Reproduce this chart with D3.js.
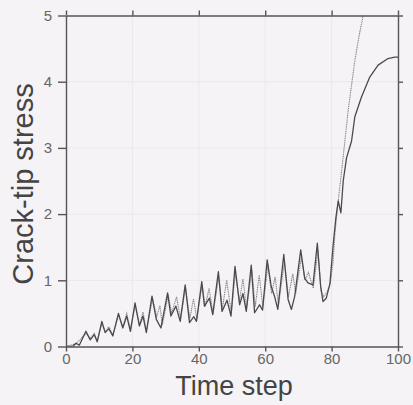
<!DOCTYPE html>
<html>
<head>
<meta charset="utf-8">
<script src="https://cdn.jsdelivr.net/npm/d3@7"></script>
<style>
  body { margin: 0; background: #f5f3f6; }
  svg { display: block; }
  .tick text { font-family: "Liberation Sans", Arial, sans-serif; fill: #666; }
</style>
</head>
<body>
<script>
//-----------------Data----------------

// solid series
const solidTime = [0, 2, 3, 4, 6, 7.3, 8.5, 9.4, 10.8, 11.8, 12.9, 14.1, 15.8, 17.1, 18.3, 19.4, 20.8, 22.1, 23.2, 24.2,
  25.9, 27.2, 28.6, 30.6, 31.6, 33.1, 34.4, 35.9, 37.2, 38.5, 39.3, 40.9, 41.7, 43.2, 44.2, 45.9, 47, 48.5, 49.7,
  50.9, 52.3, 53.3, 54.3, 55.8, 56.8, 58.3, 59.2, 60.6, 61.8, 62.8, 63.8, 65.6, 66.9, 67.9, 68.9, 70.7, 71.9, 72.9,
  74.4, 75.7, 76.7, 77.4, 78.4, 79.5, 80.4, 81.3, 82, 82.8, 83.5, 84.5, 86, 87, 89, 91.5, 94, 97, 99, 100];
const solidStress = [0, 0, 0.05, 0.02, 0.23, 0.1, 0.18, 0.07, 0.38, 0.21, 0.27, 0.16, 0.5, 0.28, 0.46, 0.23, 0.66, 0.31, 0.46, 0.21,
  0.76, 0.41, 0.28, 0.81, 0.46, 0.61, 0.38, 0.93, 0.36, 0.45, 0.38, 0.98, 0.61, 0.73, 0.48, 1.13, 0.53, 0.7, 0.46,
  1.21, 0.63, 0.8, 0.53, 1.23, 0.51, 0.63, 0.55, 1.31, 0.91, 0.76, 0.56, 1.39, 0.71, 0.56, 0.76, 1.46, 1.03, 0.96,
  0.93, 1.56, 0.91, 0.68, 0.73, 0.95, 1.5, 1.95, 2.2, 2.02, 2.5, 2.85, 3.1, 3.47, 3.77, 4.07, 4.25, 4.35, 4.37, 4.37];

// dotted series
const dottedTime = [0, 3, 6, 7.3, 8.5, 9.4, 10.8, 11.8, 12.9, 14.1, 15.8, 17.1, 18.3, 19.4, 20.8, 22.1, 23.2, 24.2,
  26.1, 27.3, 28.3, 29, 30.8, 31.8, 33.3, 34.5, 36, 37.3, 38.4, 39.4, 41, 41.9, 43.1, 44.3, 46, 47.1, 48.4, 49.8,
  51, 52.2, 53.3, 54.4, 56, 57, 58.2, 59.3, 60.8, 61.9, 63, 64, 65.8, 67, 68.3, 69.2, 70.9, 72, 73, 74.5,
  75.9, 76.8, 77.6, 78.6, 79.6, 80.5, 81, 82, 83.5, 85, 87, 88.3, 89.5];
const dottedStress = [0, 0.04, 0.2, 0.12, 0.2, 0.08, 0.35, 0.22, 0.3, 0.17, 0.47, 0.3, 0.5, 0.25, 0.62, 0.33, 0.52, 0.24,
  0.72, 0.45, 0.62, 0.32, 0.78, 0.5, 0.75, 0.42, 0.88, 0.42, 0.72, 0.42, 0.93, 0.6, 0.88, 0.5, 1.05, 0.57, 1.0, 0.5,
  1.12, 0.68, 1.02, 0.58, 1.15, 0.6, 1.08, 0.6, 1.22, 0.8, 1.05, 0.62, 1.28, 0.75, 1.1, 0.8, 1.35, 1.0, 1.12, 0.88,
  1.45, 0.85, 0.75, 0.82, 0.95, 1.3, 1.71, 2.2, 2.87, 3.57, 4.32, 4.7, 5.0];

const xTicks = [0, 20, 40, 60, 80, 100];
const yTicks = [0, 1, 2, 3, 4, 5];

//-----------------Svg------------------

const width = 413;
const height = 405;
const plotLeft = 66, plotRight = 398, plotTop = 15.5, plotBottom = 346.5;
const axisColor = "#555";

const svg = d3.select("body").append("svg").attr("width", width).attr("height", height);

const xScale = d3.scaleLinear().domain([0, 100]).range([plotLeft, plotRight]);
const yScale = d3.scaleLinear().domain([0, 5]).range([plotBottom, plotTop]);

// faint grid
svg.append("g")
  .selectAll("line")
  .data(xTicks.slice(1, -1))
  .enter()
  .append("line")
  .attr("x1", (d) => xScale(d)).attr("x2", (d) => xScale(d))
  .attr("y1", plotTop).attr("y2", plotBottom)
  .style("stroke", "#ebe8ee").style("stroke-width", 1);
svg.append("g")
  .selectAll("line")
  .data(yTicks.slice(1, -1))
  .enter()
  .append("line")
  .attr("x1", plotLeft).attr("x2", plotRight)
  .attr("y1", (d) => yScale(d)).attr("y2", (d) => yScale(d))
  .style("stroke", "#ebe8ee").style("stroke-width", 1);

//-------------Lines----------------

svg.append("defs").append("clipPath").attr("id", "plot-clip")
  .append("rect").attr("x", plotLeft).attr("y", plotTop).attr("width", plotRight - plotLeft).attr("height", plotBottom - plotTop);

const line = d3.line().x((d) => xScale(d[0])).y((d) => yScale(d[1]));

svg.append("path")
  .datum(dottedTime.map((t, i) => [t, dottedStress[i]]))
  .attr("d", line)
  .attr("clip-path", "url(#plot-clip)")
  .style("fill", "none")
  .style("stroke", "#858388")
  .style("stroke-width", 1.1)
  .style("stroke-dasharray", "1.1,0.7");

svg.append("path")
  .datum(solidTime.map((t, i) => [t, solidStress[i]]))
  .attr("d", line)
  .attr("clip-path", "url(#plot-clip)")
  .style("fill", "none")
  .style("stroke", "#4a494c")
  .style("stroke-width", 1.3)
  .style("stroke-linejoin", "round");

//------------Axis----------------

const fmt = d3.format("d");

svg.append("g")
  .attr("transform", "translate(0," + plotBottom + ")")
  .call(d3.axisBottom(xScale).tickValues(xTicks).tickFormat(fmt).tickSize(5).tickSizeOuter(0).tickPadding(2))
  .call((g) => g.selectAll("text").style("font-size", "15px"));

svg.append("g")
  .attr("transform", "translate(" + plotLeft + ",0)")
  .call(d3.axisLeft(yScale).tickValues(yTicks).tickFormat(fmt).tickSize(8).tickSizeOuter(0).tickPadding(6))
  .call((g) => g.selectAll("text").style("font-size", "15px"));

svg.append("g")
  .attr("transform", "translate(0," + plotTop + ")")
  .call(d3.axisTop(xScale).tickValues(xTicks).tickFormat("").tickSize(5).tickSizeOuter(0));

svg.append("g")
  .attr("transform", "translate(" + plotRight + ",0)")
  .call(d3.axisRight(yScale).tickValues(yTicks).tickFormat("").tickSize(5).tickSizeOuter(0));

svg.selectAll(".domain, .tick line").style("stroke", axisColor).style("stroke-width", 1.4);

//------------Labels--------------

svg.append("text")
  .text("Time step")
  .attr("x", 234)
  .attr("y", 395)
  .style("text-anchor", "middle")
  .style("font-family", "Liberation Sans, Arial, sans-serif")
  .style("font-size", "27px")
  .style("fill", "#444");

svg.append("text")
  .text("Crack-tip stress")
  .attr("transform", "translate(33,184) rotate(-90)")
  .style("text-anchor", "middle")
  .style("font-family", "Liberation Sans, Arial, sans-serif")
  .style("font-size", "29px")
  .style("fill", "#444");
</script>
</body>
</html>
